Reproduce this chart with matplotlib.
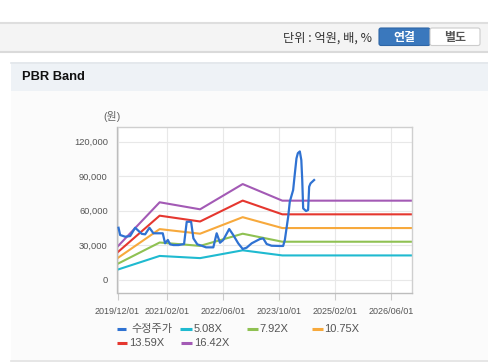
import numpy as np
import matplotlib
matplotlib.use("Agg")
import matplotlib.pyplot as plt
from matplotlib.patches import Rectangle, FancyBboxPatch

plt.rcParams['font.family'] = ['Liberation Sans', 'Noto Sans CJK KR']

# ---------------- data ----------------
price_dates = ['2019-12-10', '2019-12-24', '2020-02-06', '2020-03-20', '2020-05-02',
               '2020-06-29', '2020-07-28', '2020-09-03', '2020-10-08', '2020-12-05',
               '2020-12-28', '2021-01-17', '2021-02-10', '2021-03-02', '2021-03-31',
               '2021-05-14', '2021-07-01', '2021-07-24', '2021-08-31', '2021-09-20',
               '2021-10-24', '2021-12-01', '2022-01-08', '2022-03-12', '2022-04-10',
               '2022-05-09', '2022-06-06', '2022-07-28', '2022-09-01', '2022-10-14',
               '2022-11-22', '2022-12-26', '2023-02-08', '2023-04-20', '2023-05-19',
               '2023-06-18', '2023-07-31', '2023-10-11', '2023-11-08', '2023-11-23',
               '2023-12-22', '2024-01-05', '2024-02-03', '2024-02-18', '2024-03-03',
               '2024-03-15', '2024-04-01', '2024-04-14', '2024-04-22', '2024-04-30',
               '2024-05-25', '2024-06-12', '2024-06-21', '2024-07-03', '2024-08-03']
price = [45300, 39000, 37500, 38100, 45300,
         40000, 39600, 45300, 40500, 40500,
         40500, 31800, 34700, 30900, 30300,
         30300, 31200, 50500, 50500, 36100,
         30900, 29700, 28300, 28300, 40500,
         32300, 34700, 44200, 39000, 31800,
         26900, 28000, 31800, 35500, 36100,
         31200, 29700, 29500, 29500, 34700,
         54900, 67900, 78000, 92500, 105500,
         110000, 111500, 104000, 86700, 62100,
         59800, 60700, 80900, 83800, 86700]

band_dates = ['2019-12-01', '2020-12-01', '2021-11-17', '2022-11-22', '2023-11-01', '2026-12-01']
band_508 = [8940, 20850, 18960, 25740, 21290, 21290]
band_792 = [13940, 32510, 29570, 40130, 33180, 33180]
band_1075 = [18920, 44130, 40130, 54470, 45040, 45040]
band_1359 = [23920, 55790, 50730, 68860, 56940, 56940]
band_1642 = [28900, 67400, 61300, 83200, 68800, 68800]

series_names = ['수정주가', '5.08X', '7.92X', '10.75X', '13.59X', '16.42X']
series_colors = ['#2f72d2', '#1fbad0', '#8fc152', '#f7a93c', '#e5372f', '#a35ab5']

x_ticks = ['2019-12-01', '2021-02-01', '2022-06-01', '2023-10-01', '2025-02-01', '2026-06-01']
x_ticklabels = ['2019/12/01', '2021/02/01', '2022/06/01', '2023/10/01', '2025/02/01', '2026/06/01']
y_ticks = [0, 30000, 60000, 90000, 120000]

# ---------------- figure ----------------
W, H = 489, 362
fig = plt.figure(figsize=(W / 100, H / 100), dpi=100)
fig.patch.set_facecolor('white')

bg = fig.add_axes([0, 0, 1, 1], zorder=0)
bg.set_xlim(0, W)
bg.set_ylim(H, 0)
bg.axis('off')

# top bar
bg.add_patch(Rectangle((0, 22), W, 30, fc='#f4f4f4', ec='none'))
bg.plot([0, W], [22.5, 22.5], color='#dedede', lw=1.5)
bg.plot([0, W], [52, 52], color='#dadada', lw=1.5)
bg.text(372, 38, '단위 : 억원, 배, %', ha='right', va='center', fontsize=8.8,
        color='#333333', family=['Noto Sans CJK KR', 'DejaVu Sans'])
bg.add_patch(FancyBboxPatch((379, 28), 51, 17.5, boxstyle='round,pad=0,rounding_size=2',
                            fc='#3a78bd', ec='#2f66a6', lw=0.8))
bg.add_patch(FancyBboxPatch((430, 28), 50, 17.5, boxstyle='round,pad=0,rounding_size=2',
                            fc='white', ec='#cccccc', lw=0.8))
bg.text(404.5, 37, '연결', ha='center', va='center', fontsize=8.6, fontweight='bold',
        color='white', family=['Noto Sans CJK KR'])
bg.text(455, 37, '별도', ha='center', va='center', fontsize=8.6, fontweight='bold',
        color='#555555', family=['Noto Sans CJK KR'])

# section
bg.add_patch(Rectangle((11, 91), W - 11, 270, fc='#fbfbfb', ec='none'))
bg.add_patch(Rectangle((11, 62), W - 11, 29, fc='#eef2f6', ec='none'))
bg.plot([11, W], [62.5, 62.5], color='#e2e6ea', lw=1.2)
bg.plot([11, W], [361, 361], color='#e2e2e2', lw=1.2)
bg.text(22, 77.5, 'PBR Band', ha='left', va='center', fontsize=9.3, fontweight='bold',
        color='#111111')
bg.text(112, 117, '(원)', ha='center', va='center', fontsize=7.8, color='#666666')

# main axes
left, right, top, bottom = 117.5, 412, 127, 293
ax = fig.add_axes([left / W, 1 - bottom / H, (right - left) / W, (bottom - top) / H], zorder=1)
ax.set_facecolor('white')

pd_ = np.array(price_dates, dtype='datetime64[D]')
bd_ = np.array(band_dates, dtype='datetime64[D]')
bands = [band_508, band_792, band_1075, band_1359, band_1642]
for vals, col in zip(bands, series_colors[1:]):
    ax.plot(bd_, vals, color=col, lw=1.5, solid_joinstyle='round')
ax.plot(pd_, price, color=series_colors[0], lw=1.6, solid_joinstyle='round', zorder=5)

ax.set_xlim(np.datetime64('2019-12-01'), np.datetime64('2026-12-01'))
ax.set_ylim(-11300, 132700)
ax.set_xticks(np.array(x_ticks, dtype='datetime64[D]'))
ax.set_xticklabels(x_ticklabels)
ax.set_yticks(y_ticks)
ax.set_yticklabels([f'{v:,}' for v in y_ticks])
ax.grid(True, color='#e8e8e8', lw=0.8)
ax.set_axisbelow(True)
for s in ax.spines.values():
    s.set_color('#cfcfcf')
    s.set_linewidth(1.0)
ax.spines['left'].set_color('#bdbdbd')
ax.spines['bottom'].set_color('#bdbdbd')
ax.tick_params(axis='x', length=5, width=0.8, color='#cccccc', labelsize=6.5,
               labelcolor='#555555', pad=5)
ax.tick_params(axis='y', length=0, labelsize=6.7, labelcolor='#555555', pad=7)

# legend
leg_items = [
    (117, 126, 131, 329), (180, 192, 194, 329), (247, 258, 259, 329), (312, 323, 324, 329),
    (117, 127, 129, 343), (181, 192, 194, 343),
]
for (x0, x1, tx, ty), name, col in zip(leg_items, series_names, series_colors):
    bg.plot([x0, x1], [ty, ty], color=col, lw=2.2, solid_capstyle='butt')
    bg.text(tx, ty, name, ha='left', va='center', fontsize=8, color='#555555')

fig.savefig('out.png', dpi=100)
